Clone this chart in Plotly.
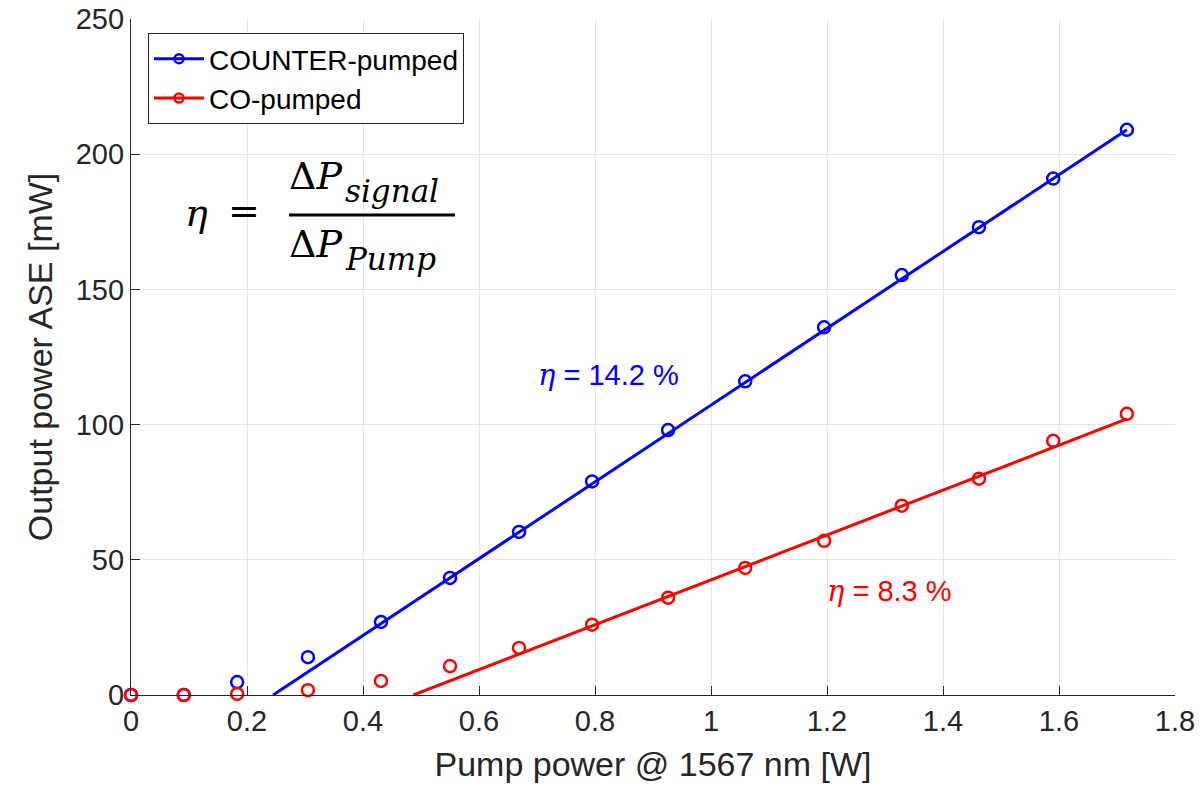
import plotly.graph_objects as go

# Measured ASE output vs. pump power
pump_w = [0.0, 0.091, 0.183, 0.305, 0.431, 0.550, 0.669, 0.795, 0.926,
          1.059, 1.195, 1.329, 1.462, 1.590, 1.717]
counter_mw = [0.0, 0.0, 4.8, 14.0, 27.0, 43.3, 60.3, 79.0, 98.0,
              116.0, 136.0, 155.3, 173.0, 191.0, 209.0]
co_mw = [0.0, 0.0, 0.4, 1.8, 5.2, 10.7, 17.4, 26.0, 36.0,
         47.0, 57.0, 70.0, 80.0, 94.0, 104.0]

# Linear fits: slope efficiency (%) and pump threshold (W)
counter_eff = 14.2
counter_thr = 0.245
co_eff = 8.3
co_thr = 0.487

BLUE = "#0000ff"
RED = "#ff0000"
DARK = "#262626"
FONT = "Liberation Sans, Arial, sans-serif"
EQ_FONT = "DejaVu Serif, Liberation Serif, serif"

W, H = 1204, 793
L, R, T, B = 131, 1175, 19, 695   # plot area in pixels


def px(x):
    return (x - L) / (R - L)


def py(y):
    return (B - y) / (B - T)


def fit_line(eff, thr, x_end):
    xs = [thr, x_end]
    ys = [eff * 10 * (x - thr) for x in xs]
    return xs, ys


fig = go.Figure()

for name, ys, eff, thr, col in [
    ("COUNTER-pumped", counter_mw, counter_eff, counter_thr, BLUE),
    ("CO-pumped", co_mw, co_eff, co_thr, RED),
]:
    fx, fy = fit_line(eff, thr, pump_w[-1])
    fig.add_trace(go.Scatter(x=fx, y=fy, mode="lines",
                             line=dict(color=col, width=3), showlegend=False,
                             hoverinfo="skip"))
    fig.add_trace(go.Scatter(x=pump_w, y=ys, mode="markers",
                             marker=dict(symbol="circle-open", size=12, color=col,
                                         line=dict(width=2.5, color=col)),
                             showlegend=False, cliponaxis=False))
    # legend entry
    fig.add_trace(go.Scatter(x=[None], y=[None], mode="lines+markers", name=name,
                             line=dict(color=col, width=3),
                             marker=dict(symbol="circle-open", size=9, color=col,
                                         line=dict(width=2.5, color=col))))

axis_common = dict(
    showline=True, linecolor=DARK, linewidth=1.3,
    ticks="inside", ticklen=9, tickcolor=DARK, tickwidth=1.2,
    showgrid=True, gridcolor="#e6e6e6", gridwidth=1,
    zeroline=False, mirror=False, automargin=False,
    tickfont=dict(family=FONT, size=29, color=DARK),
)

fig.update_xaxes(range=[0, 1.8], dtick=0.2, tickformat="~g",
                 title=dict(text="Pump power @ 1567 nm [W]",
                            font=dict(family=FONT, size=34, color=DARK),
                            standoff=16),
                 **axis_common)
fig.update_yaxes(range=[0, 250], dtick=50,
                 title=dict(text="Output power ASE [mW]",
                            font=dict(family=FONT, size=34, color=DARK),
                            standoff=12),
                 **axis_common)

# Efficiency labels
ETA = "<i><span style='font-family:DejaVu Serif'>η</span></i>"
fig.add_annotation(x=px(536), y=py(375), xref="paper", yref="paper",
                   showarrow=False, xanchor="left", yanchor="middle",
                   text=ETA + " = 14.2 %",
                   font=dict(family=FONT, size=29, color=BLUE))
fig.add_annotation(x=px(825), y=py(591), xref="paper", yref="paper",
                   showarrow=False, xanchor="left", yanchor="middle",
                   text=ETA + " = 8.3 %",
                   font=dict(family=FONT, size=29, color=RED))

# Definition of slope efficiency: eta = dP_signal / dP_Pump
def eq_text(x, y, text, size):
    fig.add_annotation(x=px(x), y=py(y), xref="paper", yref="paper",
                       showarrow=False, xanchor="left", yanchor="middle",
                       text=text, font=dict(family=EQ_FONT, size=size,
                                            color="black"))


eq_text(183, 213, "<i>η</i>", 38)
eq_text(226, 211, "=", 38)
eq_text(287, 176, "Δ<i>P</i>", 38)
eq_text(343, 191, "<i>signal</i>", 31)
eq_text(287, 244, "Δ<i>P</i>", 38)
eq_text(343, 259, "<i>Pump</i>", 31)
fig.add_shape(type="line", xref="paper", yref="paper",
              x0=px(289), x1=px(455), y0=py(215), y1=py(215),
              line=dict(color="black", width=3))

fig.update_layout(
    width=W, height=H,
    margin=dict(l=L, r=W - R, t=T, b=H - B),
    paper_bgcolor="white", plot_bgcolor="white",
    legend=dict(x=px(148), y=py(33), xanchor="left", yanchor="top",
                bgcolor="white", bordercolor=DARK, borderwidth=1,
                font=dict(family=FONT, size=28, color="black"),
                itemwidth=50, tracegroupgap=0),
    showlegend=True,
)

fig.write_html("out.html")
